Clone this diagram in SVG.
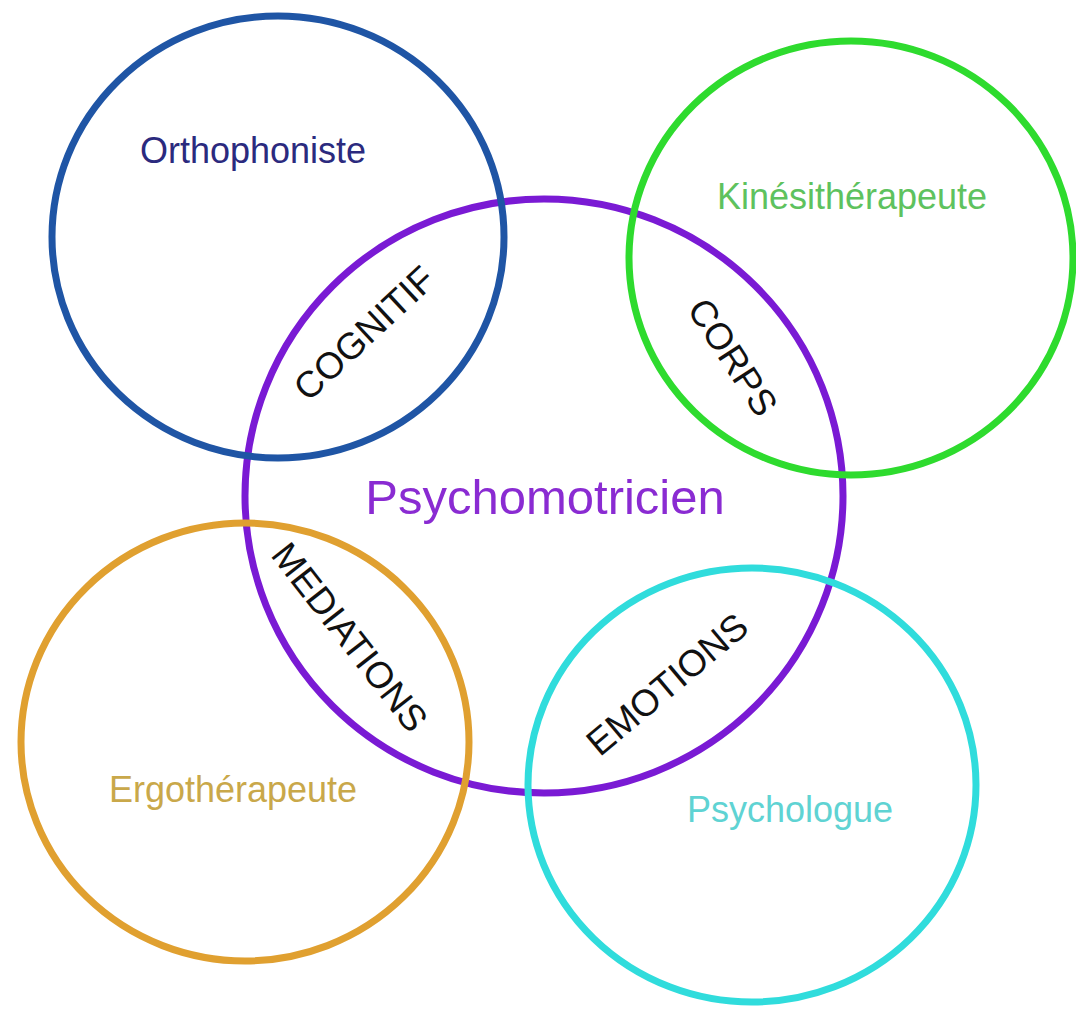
<svg xmlns="http://www.w3.org/2000/svg" width="1076" height="1011" viewBox="0 0 1076 1011">
  <style>
    .ring { fill: none; stroke-width: 7; }
    .lbl { font-family: "Liberation Sans", Arial, sans-serif; font-size: 36px; text-anchor: middle; }
    .big { font-size: 49px; }
    .ov { font-family: "Liberation Sans", Arial, sans-serif; font-size: 37px; text-anchor: middle; fill: #111111; }
  </style>
  <rect x="0" y="0" width="1076" height="1011" fill="#ffffff"/>
  <g id="psychomotricien">
    <ellipse class="ring" cx="544" cy="496" rx="299" ry="297" stroke="#7a1ad4"/>
    <text class="lbl big" x="545" y="514" fill="#8a2bd2">Psychomotricien</text>
  </g>
  <g id="orthophoniste">
    <ellipse class="ring" cx="278" cy="237" rx="226" ry="221" stroke="#1f55a5"/>
    <text class="lbl" x="253" y="163" fill="#2b2a7e">Orthophoniste</text>
  </g>
  <g id="kinesitherapeute">
    <ellipse class="ring" cx="851" cy="258" rx="222" ry="217" stroke="#2edb2e"/>
    <text class="lbl" x="852" y="209" fill="#5ec25e">Kinésithérapeute</text>
  </g>
  <g id="ergotherapeute">
    <ellipse class="ring" cx="245" cy="742" rx="224" ry="219" stroke="#e0a030"/>
    <text class="lbl" x="233" y="802" fill="#c9a84a">Ergothérapeute</text>
  </g>
  <g id="psychologue">
    <ellipse class="ring" cx="752" cy="785" rx="224" ry="217" stroke="#30dcdc"/>
    <text class="lbl" x="790" y="822" fill="#5fd3d3">Psychologue</text>
  </g>
  <g id="overlaps">
    <text class="ov" transform="translate(364,333) rotate(-43)" x="0" y="13">COGNITIF</text>
    <text class="ov" transform="translate(733,357) rotate(57)" x="0" y="13">CORPS</text>
    <text class="ov" transform="translate(350,637) rotate(52)" x="0" y="13">MEDIATIONS</text>
    <text class="ov" transform="translate(667,684) rotate(-40)" x="0" y="13">EMOTIONS</text>
  </g>
</svg>
